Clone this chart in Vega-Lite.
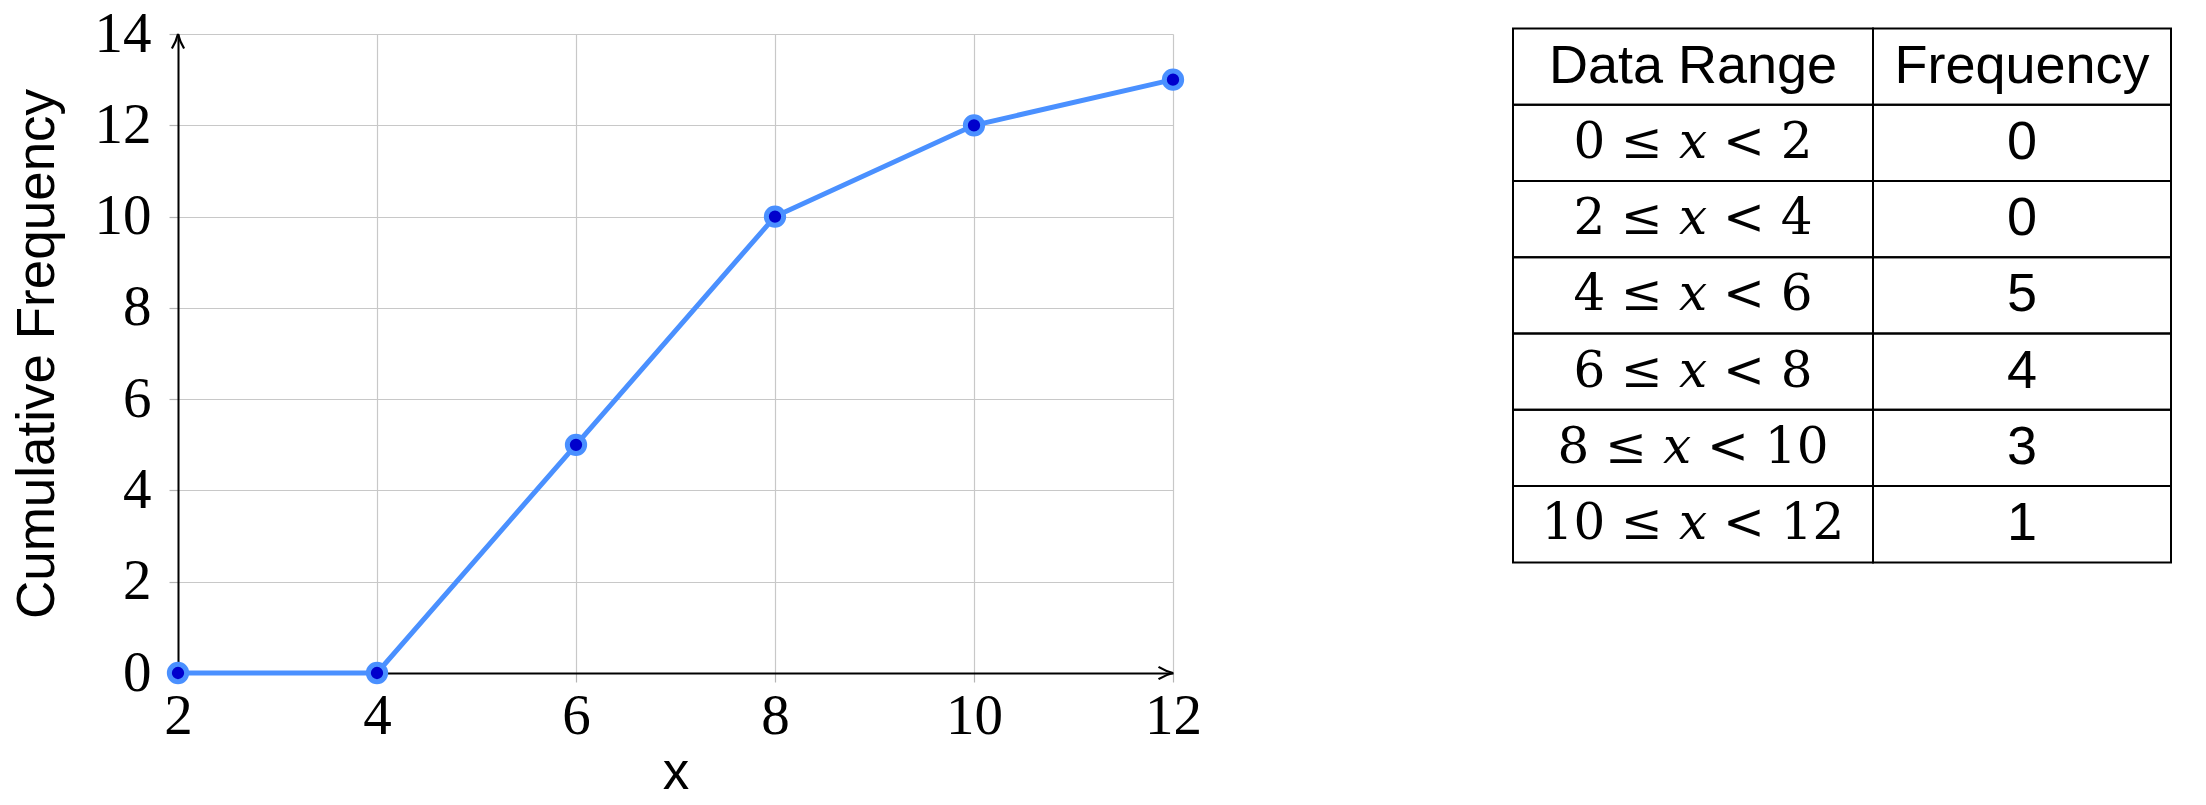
{
  "$schema": "https://vega.github.io/schema/vega-lite/v6.json",
  "padding": {"left": 11, "top": 5, "right": 5, "bottom": 5},
  "background": "white",
  "config": {"view": {"stroke": null}},
  "datasets": {
    "cum": [
      {"x": 2, "cf": 0},
      {"x": 4, "cf": 0},
      {"x": 6, "cf": 5},
      {"x": 8, "cf": 10},
      {"x": 10, "cf": 12},
      {"x": 12, "cf": 13}
    ],
    "xend": [{"x": 12, "cf": 0}],
    "yend": [{"x": 2, "cf": 14}],
    "table": [
      {"range": "Data Range", "freq": "Frequency", "kind": "head"},
      {"range": "0 ≤ 𝑥 < 2", "freq": "0", "kind": "body"},
      {"range": "2 ≤ 𝑥 < 4", "freq": "0", "kind": "body"},
      {"range": "4 ≤ 𝑥 < 6", "freq": "5", "kind": "body"},
      {"range": "6 ≤ 𝑥 < 8", "freq": "4", "kind": "body"},
      {"range": "8 ≤ 𝑥 < 10", "freq": "3", "kind": "body"},
      {"range": "10 ≤ 𝑥 < 12", "freq": "1", "kind": "body"}
    ]
  },
  "spacing": 310,
  "hconcat": [
    {
      "width": 995,
      "height": 639,
      "encoding": {
        "x": {
          "field": "x", "type": "quantitative",
          "scale": {"domain": [2, 12], "nice": false, "zero": false},
          "axis": {
            "values": [2, 4, 6, 8, 10, 12],
            "title": "x",
            "labelFont": "Liberation Serif", "labelFontSize": 57, "labelColor": "#000",
            "labelFlush": false, "labelOverlap": false, "labelPadding": 6,
            "tickSize": 9, "tickColor": "#b4b4b4", "tickWidth": 1.2,
            "domainColor": "#000", "domainWidth": 2,
            "grid": true, "gridColor": "#c8c8c8", "gridWidth": 1.2, "gridOpacity": 1,
            "titleFont": "Liberation Sans", "titleFontSize": 53, "titleFontWeight": "normal",
            "titleColor": "#000", "titlePadding": 2
          }
        },
        "y": {
          "field": "cf", "type": "quantitative",
          "scale": {"domain": [0, 14], "nice": false, "zero": false},
          "axis": {
            "values": [0, 2, 4, 6, 8, 10, 12, 14],
            "title": "Cumulative Frequency",
            "labelFont": "Liberation Serif", "labelFontSize": 57, "labelColor": "#000",
            "labelFlush": false, "labelOverlap": false, "labelPadding": 18,
            "tickSize": 9, "tickColor": "#b4b4b4", "tickWidth": 1.2,
            "domainColor": "#000", "domainWidth": 2,
            "grid": true, "gridColor": "#c8c8c8", "gridWidth": 1.2, "gridOpacity": 1,
            "titleFont": "Liberation Sans", "titleFontSize": 53, "titleFontWeight": "normal",
            "titleColor": "#000", "titlePadding": 30
          }
        }
      },
      "layer": [
        {
          "data": {"name": "cum"},
          "mark": {"type": "line", "color": "#4a90ff", "strokeWidth": 5},
          "encoding": {}
        },
        {
          "data": {"name": "cum"},
          "mark": {"type": "point", "filled": true, "fill": "#0000cc", "stroke": "#4a90ff", "strokeWidth": 5, "size": 300, "opacity": 1, "fillOpacity": 1, "strokeOpacity": 1},
          "encoding": {}
        },
        {
          "data": {"name": "xend"},
          "mark": {"type": "point", "shape": "M -1 -0.42 Q -0.5 -0.12 0 0 Q -0.5 0.12 -1 0.42", "filled": false, "stroke": "#000", "strokeWidth": 2.2, "size": 841, "opacity": 1, "clip": false},
          "encoding": {}
        },
        {
          "data": {"name": "yend"},
          "mark": {"type": "point", "shape": "M -0.42 1 Q -0.12 0.5 0 0 Q 0.12 0.5 0.42 1", "filled": false, "stroke": "#000", "strokeWidth": 2.2, "size": 841, "opacity": 1, "clip": false},
          "encoding": {}
        }
      ]
    },
    {
      "spacing": 0,
      "bounds": "flush",
      "hconcat": [
        {
          "width": 360,
          "height": 534,
          "data": {"name": "table"},
          "encoding": {
            "y": {
              "field": "range", "type": "nominal",
              "scale": {
                "domain": ["Data Range", "0 ≤ 𝑥 < 2", "2 ≤ 𝑥 < 4", "4 ≤ 𝑥 < 6", "6 ≤ 𝑥 < 8", "8 ≤ 𝑥 < 10", "10 ≤ 𝑥 < 12"],
                "paddingInner": 0, "paddingOuter": 0
              },
              "axis": null
            }
          },
          "layer": [
            {"mark": {"type": "rect", "fillOpacity": 0, "stroke": "#000", "strokeWidth": 2, "yOffset": -5.6}},
            {
              "transform": [{"filter": "datum.kind === 'head'"}],
              "mark": {"type": "text", "font": "Liberation Sans", "fontSize": 54, "color": "#000", "baseline": "middle", "align": "center", "yOffset": -5.6},
              "encoding": {"text": {"field": "range"}}
            },
            {
              "transform": [{"filter": "datum.kind === 'body'"}],
              "mark": {"type": "text", "font": "DejaVu Serif", "fontSize": 50, "color": "#000", "baseline": "middle", "align": "center", "yOffset": -5.6},
              "encoding": {"text": {"field": "range"}}
            }
          ]
        },
        {
          "width": 298,
          "height": 534,
          "data": {"name": "table"},
          "encoding": {
            "y": {
              "field": "range", "type": "nominal",
              "scale": {
                "domain": ["Data Range", "0 ≤ 𝑥 < 2", "2 ≤ 𝑥 < 4", "4 ≤ 𝑥 < 6", "6 ≤ 𝑥 < 8", "8 ≤ 𝑥 < 10", "10 ≤ 𝑥 < 12"],
                "paddingInner": 0, "paddingOuter": 0
              },
              "axis": null
            }
          },
          "layer": [
            {"mark": {"type": "rect", "fillOpacity": 0, "stroke": "#000", "strokeWidth": 2, "yOffset": -5.6}},
            {
              "mark": {"type": "text", "font": "Liberation Sans", "fontSize": 54, "color": "#000", "baseline": "middle", "align": "center", "yOffset": -5.6},
              "encoding": {"text": {"field": "freq"}}
            }
          ]
        }
      ]
    }
  ]
}
